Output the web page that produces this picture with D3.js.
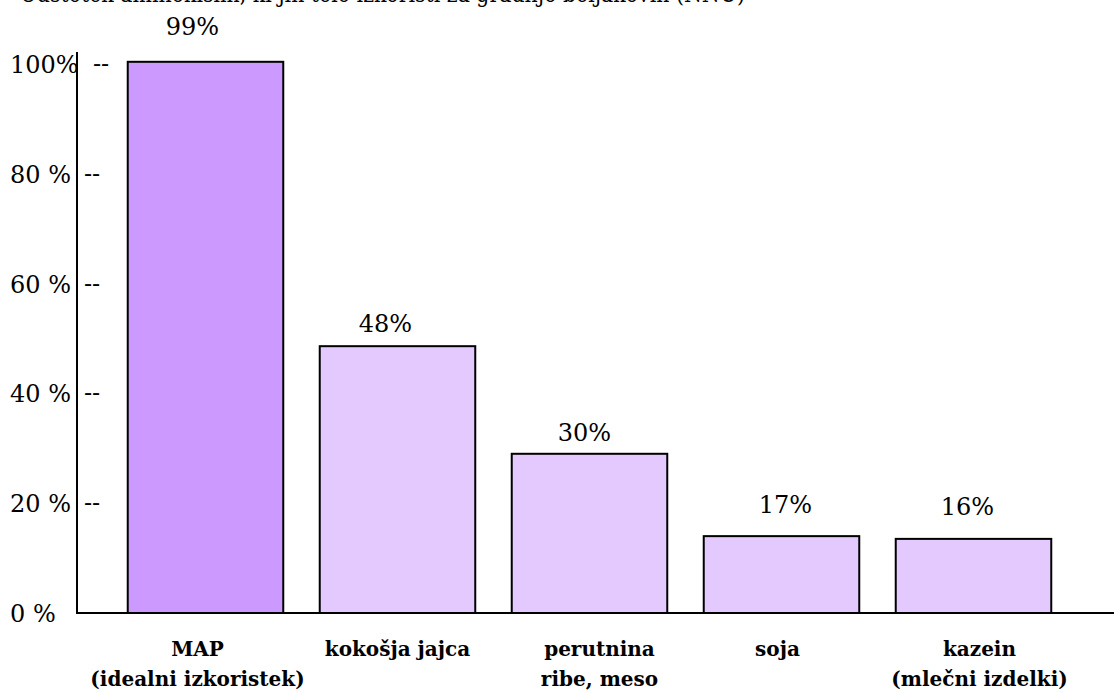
<!DOCTYPE html>
<html>
<head>
<meta charset="utf-8">
<script src="https://cdn.jsdelivr.net/npm/d3@7"></script>
<style>
  html, body { margin: 0; padding: 0; background: #fff; }
  svg { display: block; }
</style>
</head>
<body>
<div id="chart"></div>
<script>
// data
const categories = ["MAP", "kokošja jajca", "perutnina", "soja", "kazein"];
const categoryLines = [
  ["MAP", "(idealni izkoristek)"],
  ["kokošja jajca"],
  ["perutnina", "ribe, meso"],
  ["soja"],
  ["kazein", "(mlečni izdelki)"]
];
const barHeights = [100.4, 48.6, 29.0, 14.0, 13.5];   // bar tops as drawn
const valueLabels = ["99%", "48%", "30%", "17%", "16%"];
const yTicks = [0, 20, 40, 60, 80, 100];
const yTickLabels = ["0 %", "20 %", "40 %", "60 %", "80 %", "100%"];
const titleText = "Odstotek aminokislin, ki jih telo izkoristi za gradnjo beljakovin (NNU)";

const W = 1114, H = 693;

const svg = d3.select("#chart").append("svg")
  .attr("width", W)
  .attr("height", H);

// only serif face that is really there is DejaVu Serif
function txt(sel) {
  return sel.append("text")
    .attr("font-family", "DejaVu Serif")
    .style("font-family", "'DejaVu Serif'");
}

// scales
const x = d3.scaleBand()
  .domain(categories)
  .range([109.5, 1069.5])
  .paddingInner(0.19)
  .paddingOuter(0.095);

const y = d3.scaleLinear()
  .domain([0, 100])
  .range([613, 64]);

// title, mostly cut off at the top edge (as in the original)
txt(svg)
  .attr("x", 20)
  .attr("y", 2)
  .attr("font-size", "24px")
  .attr("textLength", 725)
  .attr("lengthAdjust", "spacingAndGlyphs")
  .text(titleText);

// bars
const colors = ["#cc99ff", "#e3c9ff", "#e3c9ff", "#e3c9ff", "#e3c9ff"];
svg.selectAll("rect.bar")
  .data(barHeights)
  .enter().append("rect")
    .attr("class", "bar")
    .attr("x", (d, i) => x(categories[i]))
    .attr("y", d => y(d))
    .attr("width", x.bandwidth())
    .attr("height", d => y(0) - y(d))
    .attr("fill", (d, i) => colors[i])
    .attr("stroke", "#000")
    .attr("stroke-width", 2);

// axis lines
svg.append("line")
  .attr("x1", 77).attr("x2", 77)
  .attr("y1", 52).attr("y2", y(0))
  .attr("stroke", "#000")
  .attr("stroke-width", 2);

svg.append("line")
  .attr("x1", 76).attr("x2", W)
  .attr("y1", y(0)).attr("y2", y(0))
  .attr("stroke", "#000")
  .attr("stroke-width", 2);

// y tick labels and the "--" marks
yTicks.forEach((t, i) => {
  txt(svg)
    .attr("x", 10)
    .attr("y", y(t) + 9)
    .attr("font-size", "24px")
    .text(yTickLabels[i]);
  if (t > 0) {
    txt(svg)
      .attr("x", t === 100 ? 93 : 84)
      .attr("y", y(t) + 8)
      .attr("font-size", "24px")
      .text("--");
  }
});

// value labels above the bars
const labelShift = [-13, -12, -5, 4, -6];
const labelGap = [27, 14, 13, 23, 24];
valueLabels.forEach((d, i) => {
  txt(svg)
    .attr("x", x(categories[i]) + x.bandwidth() / 2 + labelShift[i])
    .attr("y", y(barHeights[i]) - labelGap[i])
    .attr("text-anchor", "middle")
    .attr("font-size", "24px")
    .text(d);
});

// category labels
const catShift = [-8, 0, 10, -4, 6];
categoryLines.forEach((lines, i) => {
  const cx = x(categories[i]) + x.bandwidth() / 2 + catShift[i];
  lines.forEach((ln, j) => {
    txt(svg)
      .attr("x", cx)
      .attr("y", 656 + j * 30)
      .attr("text-anchor", "middle")
      .attr("font-size", "20px")
      .attr("font-weight", "bold")
      .text(ln);
  });
});
</script>
</body>
</html>
